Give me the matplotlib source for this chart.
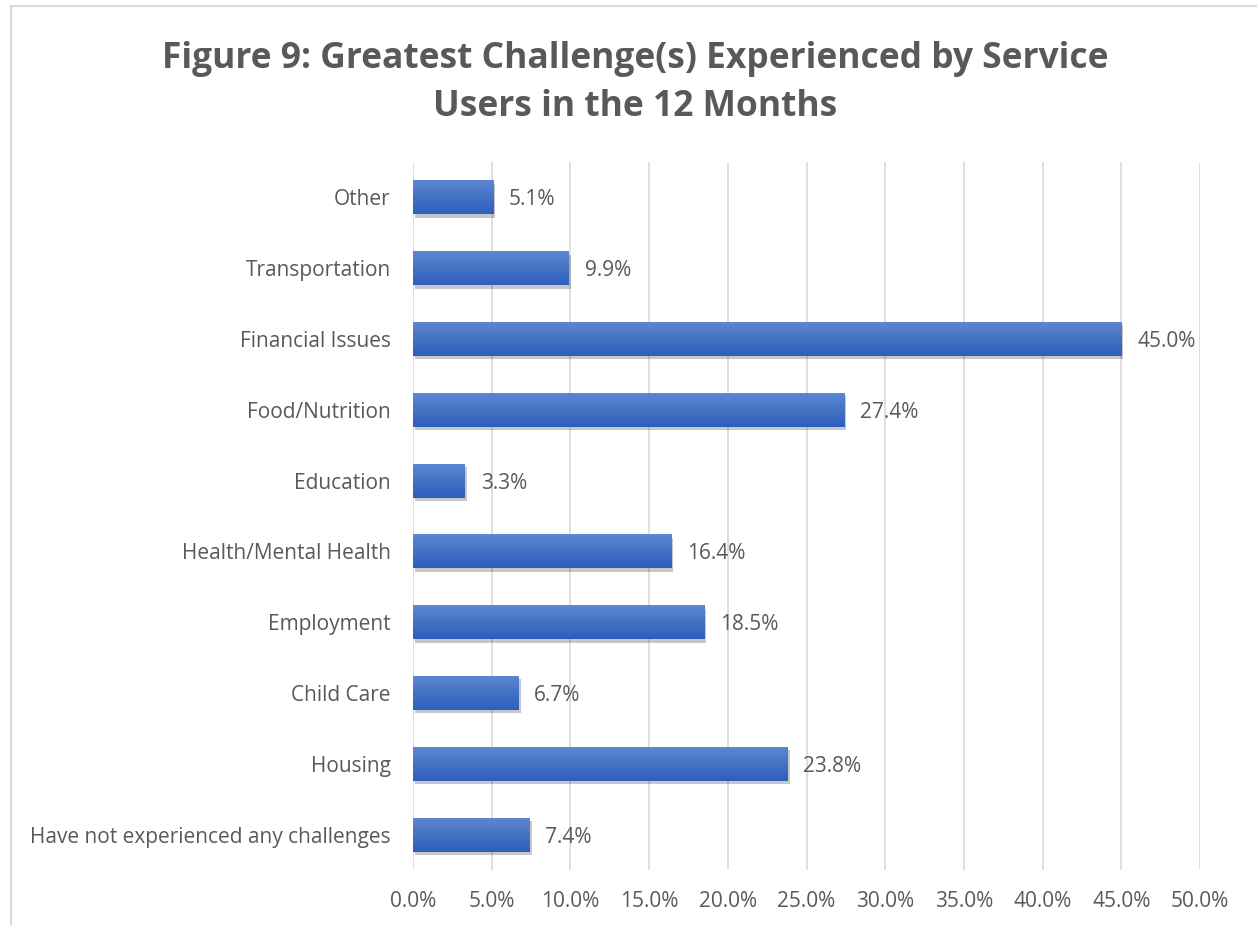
import numpy as np
import matplotlib
matplotlib.use("Agg")
import matplotlib.pyplot as plt
import matplotlib.patheffects as pe
from matplotlib.colors import LinearSegmentedColormap
from matplotlib.patches import Rectangle
from matplotlib.ticker import FuncFormatter, MultipleLocator

plt.rcParams["font.family"] = ["Open Sans", "DejaVu Sans"]

categories = [
    "Other",
    "Transportation",
    "Financial Issues",
    "Food/Nutrition",
    "Education",
    "Health/Mental Health",
    "Employment",
    "Child Care",
    "Housing",
    "Have not experienced any challenges",
]
percent = [5.1, 9.9, 45.0, 27.4, 3.3, 16.4, 18.5, 6.7, 23.8, 7.4]

text_color = "#595959"
grid_color = "#D9D9D9"
grad = LinearSegmentedColormap.from_list("bar", ["#5D87D3", "#4472C4", "#2C5EBE"])

fig = plt.figure(figsize=(12.57, 9.25), dpi=100)
ax = fig.add_axes([413 / 1257, 1 - 870 / 925, 787 / 1257, 708 / 925])

pos = np.arange(len(categories))
bars = ax.barh(pos, percent, height=0.48, color="#4472C4", zorder=2)

# gradient fill + soft shadow on every bar
gradient = np.linspace(0, 1, 256).reshape(-1, 1)
for b in bars:
    b.set_path_effects([
        pe.SimplePatchShadow(offset=(1.5, -2.5), shadow_rgbFace="black", alpha=0.22),
        pe.Normal(),
    ])
    x0, y0 = b.get_x(), b.get_y()
    w, h = b.get_width(), b.get_height()
    im = ax.imshow(gradient, cmap=grad, aspect="auto", origin="upper",
                   extent=(x0, x0 + w, y0 + h, y0), zorder=3)
    im.set_clip_path(b)

for y, v in zip(pos, percent):
    ax.text(v + 1.0, y, f"{v:.1f}%", va="center_baseline", ha="left",
            fontsize=15, color=text_color)

ax.set_xlim(0, 50)
ax.set_ylim(len(categories) - 0.5, -0.5)
ax.xaxis.set_major_locator(MultipleLocator(5))
ax.xaxis.set_major_formatter(FuncFormatter(lambda x, _: f"{x:.1f}%"))
ax.set_yticks(pos)
ax.set_yticklabels(categories)
ax.tick_params(axis="both", length=0, labelsize=15, labelcolor=text_color)
ax.tick_params(axis="y", pad=16)
ax.tick_params(axis="x", pad=15)
ax.grid(axis="x", color=grid_color, linewidth=1.2, zorder=0)
ax.set_axisbelow(True)
for s in ax.spines.values():
    s.set_visible(False)

fig.text(0.505, 1 - 83 / 925,
         "Figure 9: Greatest Challenge(s) Experienced by Service\nUsers in the 12 Months",
         ha="center", va="center", fontsize=25.5, fontweight="bold",
         color=text_color, linespacing=1.45)

# chart frame
fig.patches.append(Rectangle((11 / 1257, -0.05), 1.2, 1 - 6 / 925 + 0.05,
                             transform=fig.transFigure, fill=False,
                             edgecolor=grid_color, linewidth=1.5))

plt.savefig("out.png", dpi=100)
plt.close()
